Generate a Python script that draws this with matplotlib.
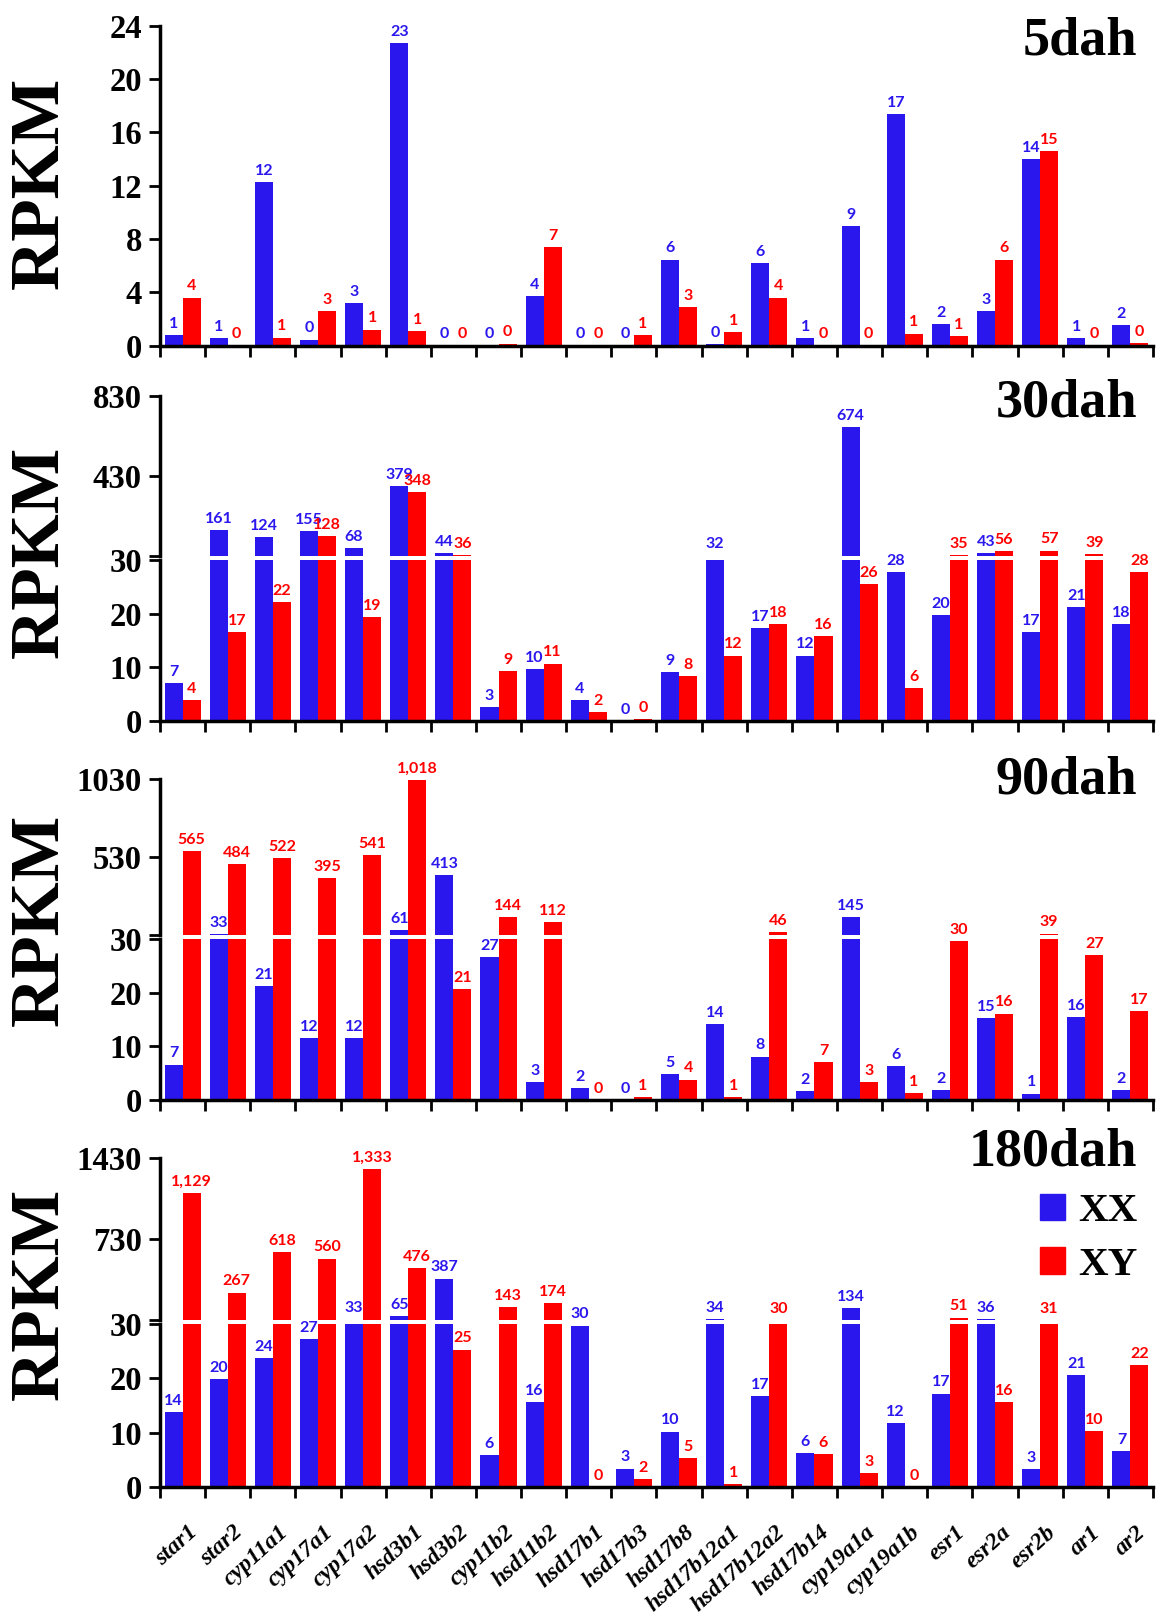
import matplotlib
matplotlib.use('Agg')
import matplotlib.pyplot as plt
from matplotlib.patches import Patch
import numpy as np

plt.rcParams['font.family'] = 'Liberation Serif'
plt.rcParams['font.weight'] = 'bold'

genes = ['star1', 'star2', 'cyp11a1', 'cyp17a1', 'cyp17a2', 'hsd3b1', 'hsd3b2',
         'cyp11b2', 'hsd11b2', 'hsd17b1', 'hsd17b3', 'hsd17b8', 'hsd17b12a1',
         'hsd17b12a2', 'hsd17b14', 'cyp19a1a', 'cyp19a1b', 'esr1', 'esr2a',
         'esr2b', 'ar1', 'ar2']

# RPKM (labels are the rounded values)
xx_5 = [0.8, 0.55, 12.3, 0.45, 3.2, 22.7, 0, 0, 3.7, 0, 0, 6.45, 0.1, 6.2,
        0.55, 9.0, 17.4, 1.6, 2.6, 14.0, 0.55, 1.55]
xy_5 = [3.6, 0, 0.6, 2.6, 1.2, 1.1, 0, 0.15, 7.4, 0, 0.8, 2.9, 1.0, 3.6,
        0, 0, 0.9, 0.7, 6.45, 14.6, 0, 0.2]

xx_30 = [7, 161, 124, 155, 68, 379, 44, 2.6, 9.6, 3.9, 0, 9.1, 32, 17.3,
         12.2, 674, 27.8, 19.7, 43, 16.6, 21.2, 18.1]
xy_30 = [3.9, 16.6, 22.1, 128, 19.3, 348, 36, 9.3, 10.7, 1.7, 0.3, 8.3, 12.2,
         18.0, 15.8, 25.5, 6.1, 35, 56, 57, 39, 27.8]

xx_90 = [6.6, 33, 21.3, 11.5, 11.6, 61, 413, 26.6, 3.3, 2.2, 0, 4.8, 14.1, 8.1,
         1.6, 145, 6.3, 1.8, 15.2, 1.2, 15.5, 1.8]
xy_90 = [565, 484, 522, 395, 541, 1018, 20.7, 144, 112, 0, 0.6, 3.8, 0.6, 46,
         7.0, 3.3, 1.3, 29.6, 16.1, 39, 27.0, 16.6]

xx_180 = [13.8, 19.9, 23.7, 27.3, 33, 65, 387, 5.8, 15.7, 29.7, 3.4, 10.2, 34,
          16.8, 6.3, 134, 11.7, 17.2, 36, 3.3, 20.6, 6.6]
xy_180 = [1129, 267, 618, 560, 1333, 476, 25.3, 143, 174, 0, 1.5, 5.3, 0.6,
          30.2, 6.1, 2.6, 0, 51, 15.7, 31, 10.3, 22.4]

BLUE = '#2A17EE'
RED = '#FF0000'
BREAK = 30

x = np.arange(len(genes))


def draw_bars(ax, xx, xy):
    ax.bar(x + 0.10, xx, width=0.40, align='edge', color=BLUE)
    ax.bar(x + 0.50, xy, width=0.40, align='edge', color=RED)


def value_labels(ax, vals, offset, color, upper):
    for i, v in enumerate(vals):
        if (v > BREAK) != upper:
            continue
        ax.annotate('{:,.0f}'.format(v), (i + offset, v), xytext=(0, 3),
                    textcoords='offset points', ha='center', va='bottom',
                    color=color, fontsize=11.5, fontweight='bold', family='Lato',
                    zorder=5)


def style(ax, bottom=True):
    ax.set_xlim(0, 22)
    ax.patch.set_visible(False)
    ax.spines['top'].set_visible(False)
    ax.spines['right'].set_visible(False)
    ax.spines['left'].set_linewidth(2.5)
    ax.tick_params(axis='y', direction='out', length=8, width=2, labelsize=23.5, pad=5)
    if bottom:
        ax.spines['bottom'].set_linewidth(2.5)
        ax.set_xticks(np.arange(23))
        ax.set_xticklabels([])
        ax.tick_params(axis='x', direction='out', length=8, width=2)
    else:
        ax.spines['bottom'].set_visible(False)
        ax.tick_params(axis='x', bottom=False, labelbottom=False)


fig = plt.figure(figsize=(11.56, 16.17), dpi=100)
L, W = 0.1384, 0.859

# 5dah - plain axis
ax = fig.add_axes([L, 0.7863, W, 0.1977])
draw_bars(ax, xx_5, xy_5)
value_labels(ax, xx_5, 0.30, BLUE, False)
value_labels(ax, xy_5, 0.70, RED, False)
ax.set_ylim(0, 24)
ax.set_yticks(np.arange(0, 25, 4))
style(ax)

# broken panels: (xx, xy, top, upper ticks, lower box, upper box)
panels = [
    (xx_30, xy_30, 830, [430, 830], 0.5541, 0.0996, 0.6562, 0.0989),
    (xx_90, xy_90, 1030, [530, 1030], 0.3197, 0.0996, 0.4218, 0.0967),
    (xx_180, xy_180, 1430, [730, 1430], 0.0804, 0.1008, 0.1837, 0.1002),
]

for k, (xx, xy, top, uticks, lb, lh, ub, uh) in enumerate(panels):
    lo = fig.add_axes([L, lb, W, lh])
    hi = fig.add_axes([L, ub, W, uh])
    for a in (lo, hi):
        draw_bars(a, xx, xy)
    value_labels(lo, xx, 0.30, BLUE, False)
    value_labels(lo, xy, 0.70, RED, False)
    value_labels(hi, xx, 0.30, BLUE, True)
    value_labels(hi, xy, 0.70, RED, True)
    lo.set_ylim(0, BREAK)
    lo.set_yticks([0, 10, 20, 30])
    hi.set_ylim(BREAK, top)
    hi.set_yticks([BREAK] + uticks)
    hi.set_yticklabels([''] + [str(t) for t in uticks])
    style(lo)
    style(hi, bottom=False)
    lo.set_zorder(2)
    if k == 2:
        lo.set_xticks(x + 0.62, minor=True)
        lo.set_xticklabels(genes, minor=True, rotation=42, ha='right', va='top',
                           rotation_mode='anchor', fontstyle='italic', fontsize=17)
        lo.tick_params(axis='x', which='minor', length=0, pad=25)

# titles and y labels
for y, t in [(0.990, '5dah'), (0.766, '30dah'), (0.5325, '90dah'), (0.3025, '180dah')]:
    fig.text(0.9836, y, t, ha='right', va='top', fontsize=39, fontweight='bold')
for y in [0.8868, 0.6586, 0.431, 0.1998]:
    fig.text(0.035, y, 'RPKM', rotation=90, ha='center', va='center',
             fontsize=50, fontweight='bold')

handles = [Patch(color=BLUE, label='XX'), Patch(color=RED, label='XY')]
fig.legend(handles=handles, loc='upper right', bbox_to_anchor=(0.9836, 0.262),
           frameon=False, fontsize=29.5, handlelength=0.62, handleheight=0.62,
           handletextpad=0.3, labelspacing=0.4, borderpad=0, borderaxespad=0)

fig.savefig('out.png', dpi=100)
